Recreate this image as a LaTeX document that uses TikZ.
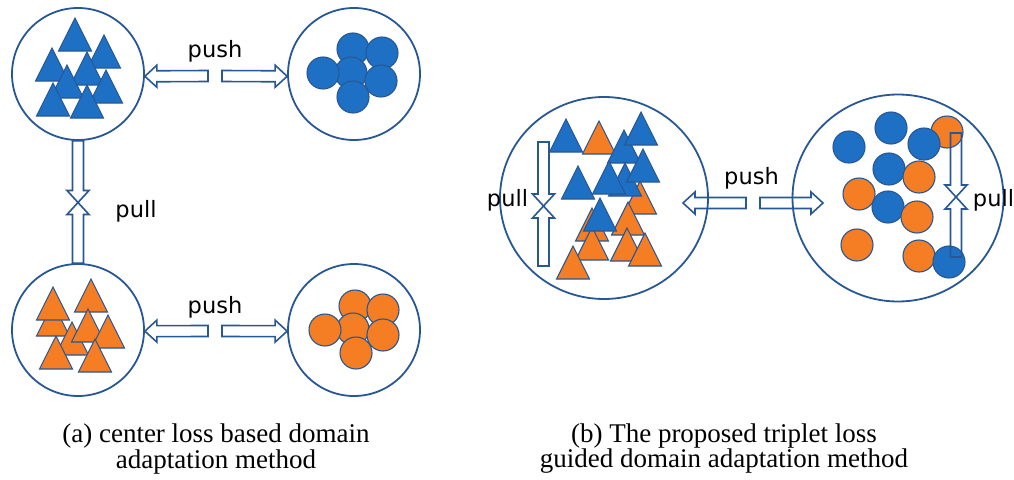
\documentclass[tikz,border=0pt]{standalone}
\usepackage{fontspec}
\newfontfamily\labelfont{DejaVu Sans}
\newfontfamily\captionfont{Liberation Serif}
\usetikzlibrary{calc,shapes.geometric}

\definecolor{ptblue}{RGB}{30,112,196}
\definecolor{ptorange}{RGB}{245,125,35}
\definecolor{edgeblue}{RGB}{40,88,148}

% filled marker shapes: apex / centre given in picture units
\newcommand{\marktri}[3]{\filldraw[marker,fill=#1] (#2,#3) -- ++(-16.5,33) -- ++(33,0) -- cycle;}
\newcommand{\markdot}[3]{\filldraw[marker,fill=#1] (#2,#3) circle[radius=16];}

% hollow block arrow from tail #2 to tip #1
\newcommand{\headlen}{12pt}
\newcommand{\headhw}{11pt}
\newcommand{\shafthw}{5.5pt}
\newcommand{\hollowarrow}[2]{%
  \coordinate (ha-h) at ($(#1)!\headlen!(#2)$);
  \draw[blockarrow] (#1)
    -- ($(ha-h)!\headhw!90:(#2)$)
    -- ($(ha-h)!\shafthw!90:(#2)$)
    -- ($(#2)!\shafthw!-90:(ha-h)$)
    -- ($(#2)!\shafthw!90:(ha-h)$)
    -- ($(ha-h)!\shafthw!-90:(#2)$)
    -- ($(ha-h)!\headhw!-90:(#2)$)
    -- cycle;}

\begin{document}
\begin{tikzpicture}[x=1pt,y=-1pt,
  cluster/.style={draw=edgeblue,line width=1.8pt,circle,inner sep=0pt,minimum size=132pt},
  bigcluster/.style={draw=edgeblue,line width=1.8pt,ellipse,inner sep=0pt},
  marker/.style={draw=edgeblue,line width=1.1pt,line join=miter},
  blockarrow/.style={draw=edgeblue,line width=1.6pt,line join=miter},
  lbl/.style={font=\labelfont\fontsize{22.5}{26}\selectfont,inner sep=0pt,anchor=base},
  caption/.style={font=\captionfont\fontsize{27}{25}\selectfont,align=center,inner sep=0pt}]
\useasboundingbox (0,0) rectangle (1014,479);

% ---------- (a) center loss ----------
\node[cluster] (TL) at (78,74) {};
\node[cluster] (TR) at (354,74) {};
\node[cluster] (BL) at (78,330) {};
\node[cluster] (BR) at (354,330) {};

% source-domain triangles
\marktri{ptblue}{75}{18}
\marktri{ptblue}{104}{35}
\marktri{ptblue}{52}{48}
\marktri{ptblue}{87}{52}
\marktri{ptblue}{67}{65}
\marktri{ptblue}{106}{70}
\marktri{ptblue}{53}{83}
\marktri{ptblue}{87}{85}

% source-domain dots
\markdot{ptblue}{353}{49}
\markdot{ptblue}{382}{53}
\markdot{ptblue}{351}{73}
\markdot{ptblue}{323}{73}
\markdot{ptblue}{381}{81}
\markdot{ptblue}{353}{97}

% target-domain triangles
\marktri{ptorange}{53}{303}
\marktri{ptorange}{53}{287}
\marktri{ptorange}{91}{279}
\marktri{ptorange}{72}{322}
\marktri{ptorange}{88}{309}
\marktri{ptorange}{108}{315}
\marktri{ptorange}{56}{336}
\marktri{ptorange}{95}{339}

% target-domain dots
\markdot{ptorange}{355}{306}
\markdot{ptorange}{383}{310}
\markdot{ptorange}{353}{329}
\markdot{ptorange}{325}{330}
\markdot{ptorange}{383}{335}
\markdot{ptorange}{356}{353}

% push / pull connectors
\coordinate (pushA1) at (208,76);
\coordinate (pushA2) at (222,76);
\coordinate (pushC1) at (208,331);
\coordinate (pushC2) at (222,331);
\coordinate (pullA) at (78,202.5);
\hollowarrow{TL.-2}{pushA1}
\hollowarrow{TR.182}{pushA2}
\hollowarrow{BL.-1}{pushC1}
\hollowarrow{BR.181}{pushC2}
\hollowarrow{pullA}{TL.south}
\hollowarrow{pullA}{BL.north}

\node[lbl] (pushTop) at (215,57.5) {push};
\node[lbl] (pushBot) at (215,313) {push};
\node[lbl] (pullLeft) at (136,217) {pull};

% ---------- (b) triplet loss ----------
\node[bigcluster,minimum width=208pt,minimum height=202pt] (SL) at (604,198) {};
\node[bigcluster,minimum width=211pt,minimum height=207pt] (SR) at (898,198) {};

% mixed triangles
\marktri{ptblue}{566}{119}
\marktri{ptorange}{599}{121}
\marktri{ptblue}{624}{130}
\marktri{ptblue}{641}{112}
\marktri{ptorange}{640}{181}
\marktri{ptblue}{578}{166}
\marktri{ptblue}{625}{163}
\marktri{ptblue}{609}{161}
\marktri{ptblue}{643}{149}
\marktri{ptorange}{592}{208}
\marktri{ptorange}{592}{227}
\marktri{ptorange}{628}{202}
\marktri{ptblue}{600}{198}
\marktri{ptorange}{627}{228}
\marktri{ptorange}{645}{233}
\marktri{ptorange}{573}{246}

% mixed dots
\markdot{ptblue}{849}{147}
\markdot{ptblue}{891}{128}
\markdot{ptorange}{947}{132}
\markdot{ptblue}{924}{144}
\markdot{ptblue}{889}{169}
\markdot{ptorange}{919}{177}
\markdot{ptorange}{859}{194}
\markdot{ptblue}{888}{207}
\markdot{ptorange}{917}{217}
\markdot{ptorange}{857}{245}
\markdot{ptorange}{919}{256}
\markdot{ptblue}{949}{262}

% push / pull connectors
\coordinate (pullB1) at (543.5,142);
\coordinate (pullBm) at (543.5,206);
\coordinate (pullB2) at (543.5,266);
\coordinate (pushB1) at (683,203);
\coordinate (pushB2) at (746,203);
\coordinate (pushB3) at (760,203);
\coordinate (pushB4) at (823,203);
\coordinate (pullR1) at (956,133);
\coordinate (pullRm) at (956,197);
\coordinate (pullR2) at (956,257);
\hollowarrow{pullBm}{pullB1}
\hollowarrow{pullBm}{pullB2}
\hollowarrow{pushB1}{pushB2}
\hollowarrow{pushB4}{pushB3}
\hollowarrow{pullRm}{pullR1}
\hollowarrow{pullRm}{pullR2}

\node[lbl] (pullB) at (507.5,206) {pull};
\node[lbl] (pushB) at (751.5,184) {push};
\node[lbl] (pullR) at (993.5,206) {pull};

% ---------- captions ----------
\node[caption] (capA) at (216,449) {(a) center loss based domain\\adaptation method};
\node[caption] (capB) at (724,449) {(b) The proposed triplet loss\\guided domain adaptation method};
\end{tikzpicture}
\end{document}
